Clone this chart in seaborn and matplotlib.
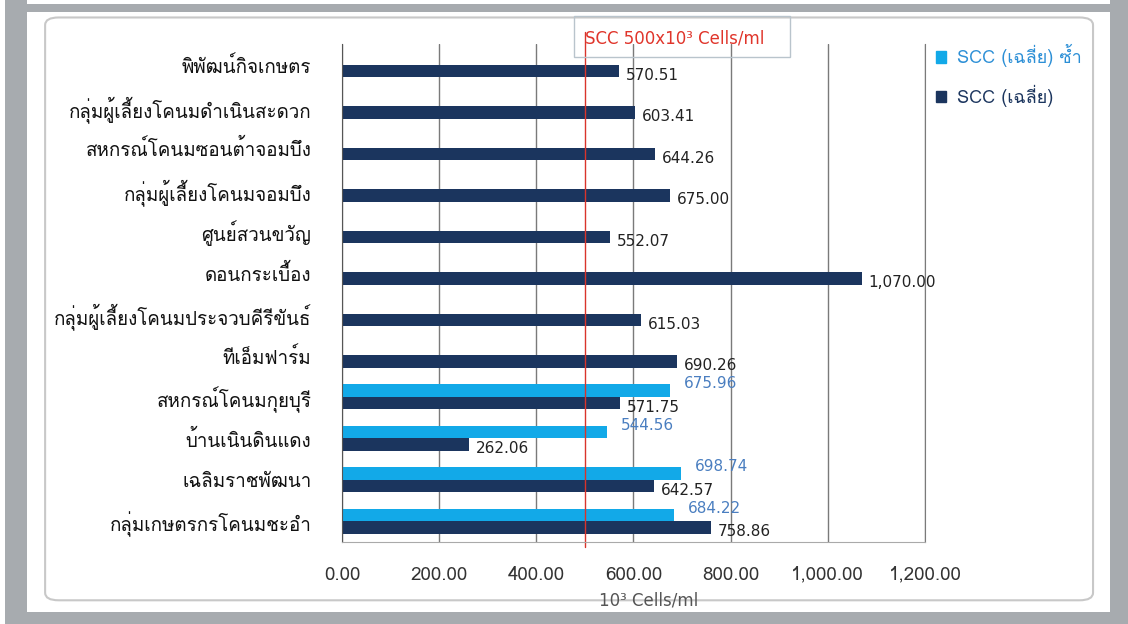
import numpy as np
import pandas as pd
import seaborn as sns
import matplotlib.pyplot as plt
from matplotlib import font_manager, ft2font
from matplotlib.patches import Rectangle, FancyBboxPatch
from matplotlib.lines import Line2D

# data, top to bottom as shown
farms = ['พิพัฒน์กิจเกษตร', 'กลุ่มผู้เลี้ยงโคนมดำเนินสะดวก', 'สหกรณ์โคนมซอนต้าจอมบึง',
         'กลุ่มผู้เลี้ยงโคนมจอมบึง', 'ศูนย์สวนขวัญ', 'ดอนกระเบื้อง',
         'กลุ่มผู้เลี้ยงโคนมประจวบคีรีขันธ์', 'ทีเอ็มฟาร์ม', 'สหกรณ์โคนมกุยบุรี',
         'บ้านเนินดินแดง', 'เฉลิมราชพัฒนา', 'กลุ่มเกษตรกรโคนมชะอำ']
scc_avg = [570.51, 603.41, 644.26, 675.00, 552.07, 1070.00,
           615.03, 690.26, 571.75, 262.06, 642.57, 758.86]
scc_repeat = [np.nan] * 8 + [675.96, 544.56, 698.74, 684.22]
series = ['SCC (เฉลี่ย) ซ้ำ', 'SCC (เฉลี่ย)']
xticks = [0, 200, 400, 600, 800, 1000, 1200]
limit = 500

LIGHT = '#12A9E8'
DARK = '#1B355E'


def thai_font():
    for f in font_manager.fontManager.ttflist:
        try:
            if 0x0E01 in ft2font.FT2Font(f.fname).get_charmap():
                return f.name
        except Exception:
            pass
    return 'DejaVu Sans'


sns.set_style('white')
thai = thai_font()
plt.rcParams['font.family'] = [thai, 'DejaVu Sans']

df = pd.DataFrame({
    'farm': farms * 2,
    'value': scc_repeat + scc_avg,
    'series': [series[0]] * len(farms) + [series[1]] * len(farms),
})

fig = plt.figure(figsize=(11.28, 6.24), dpi=100)
fig.patch.set_facecolor('white')

# screenshot frame
for x, y, w, h in [(0.004, 0.0, 0.020, 1.0), (0.024, 0.981, 0.96, 0.012),
                   (0.984, 0.0, 0.016, 1.0), (0.004, 0.0, 0.98, 0.019)]:
    fig.add_artist(Rectangle((x, y), w, h, transform=fig.transFigure,
                             facecolor='#A7ABAF', edgecolor='none', zorder=-20))
fig.add_artist(FancyBboxPatch((0.040, 0.038), 0.929, 0.934,
                              boxstyle='round,pad=0,rounding_size=0.012',
                              transform=fig.transFigure, facecolor='white',
                              edgecolor='#C8C8C8', linewidth=1.5, zorder=-10))

ax = fig.add_axes([0.3032, 0.1314, 0.5168, 0.7981])
ax.set_facecolor('none')
sns.barplot(data=df, y='farm', x='value', hue='series', hue_order=series,
            palette=[LIGHT, DARK], order=farms, width=0.6, orient='h',
            ax=ax, legend=False, saturation=1, linewidth=0)

ax.set_xlim(0, 1200)
ax.set_ylim(len(farms) - 0.5, -0.5)
ax.set_xticks(xticks)
ax.set_xticklabels([f'{v:,.2f}' for v in xticks], fontsize=13.5, color='#333333')
ax.tick_params(axis='x', length=6, color='#888888', pad=11)
ax.tick_params(axis='y', length=0, pad=22, labelsize=13.5, labelcolor='#111111')
ax.set_yticks(np.arange(len(farms) + 1) - 0.5, minor=True)
ax.tick_params(axis='y', which='minor', length=5, color='#AAAAAA')
ax.set_xlabel('')
ax.set_ylabel('')
ax.grid(axis='x', color='#7A7A7A', linewidth=1)
ax.set_axisbelow(True)
ax.spines['top'].set_visible(False)
ax.spines['right'].set_color('#7A7A7A')
ax.spines['left'].set_color('#555555')
ax.spines['bottom'].set_color('#AAAAAA')

# value labels
for i, v in enumerate(scc_avg):
    ax.annotate(f'{v:,.2f}', (v, i + 0.15), xytext=(5, -3), textcoords='offset points',
                va='center', ha='left', fontsize=11, color='#222222', family='DejaVu Sans')
for i, v in enumerate(scc_repeat):
    if not np.isnan(v):
        ax.annotate(f'{v:,.2f}', (v, i - 0.15), xytext=(10, 5), textcoords='offset points',
                    va='center', ha='left', fontsize=11, color='#4A7EC0', family='DejaVu Sans')

# 500 threshold line
ax.add_line(Line2D([limit, limit], [-0.01, 1.024], transform=ax.get_xaxis_transform(),
                   color='#D9342B', linewidth=1, clip_on=False))
fig.text(0.519, 0.939, 'SCC 500x10³ Cells/ml', color='#E0352B', fontsize=12,
         va='center', ha='left', family='DejaVu Sans')
fig.add_artist(Rectangle((0.509, 0.909), 0.191, 0.066, transform=fig.transFigure,
                         facecolor='none', edgecolor='#B9C4CC', linewidth=1))
fig.text(0.575, 0.038, '10³ Cells/ml', color='#555555', fontsize=12,
         va='center', ha='center', family='DejaVu Sans')

handles = [Rectangle((0, 0), 1, 1, color=c) for c in [LIGHT, DARK]]
leg = fig.legend(handles, series, loc='upper left', bbox_to_anchor=(0.815, 0.955),
                 frameon=False, fontsize=13, handlelength=0.6, handleheight=0.6,
                 labelspacing=0.95, handletextpad=0.6)
for t, c in zip(leg.get_texts(), ['#2C8FD6', DARK]):
    t.set_color(c)

fig.savefig('out.png', dpi=100)
